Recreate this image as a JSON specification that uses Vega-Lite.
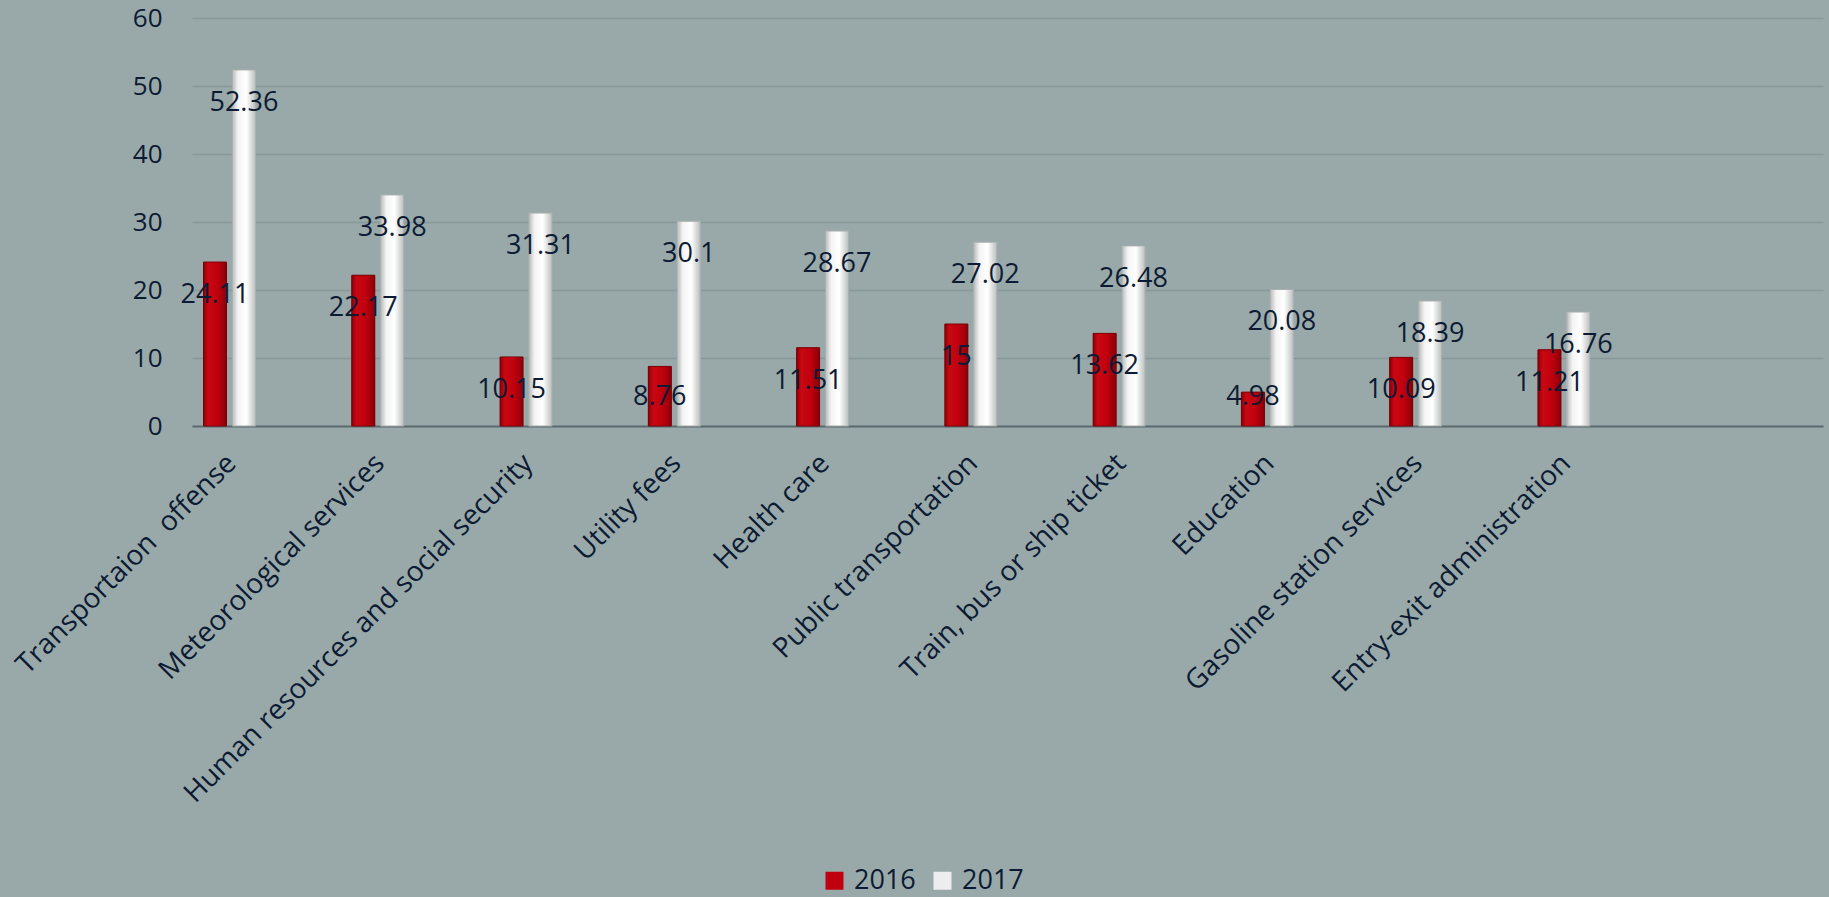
{
  "$schema": "https://vega.github.io/schema/vega-lite/v6.json",
  "autosize": "none",
  "width": 1631,
  "height": 408,
  "padding": {"left": 192, "top": 18, "right": 6, "bottom": 471},
  "background": "#99a9a9",
  "config": {"view": {"stroke": null}, "font": "Open Sans"},
  "data": {
    "values": [
      {"category": "Transportaion  offense", "year": "2016", "value": 24.11},
      {"category": "Transportaion  offense", "year": "2017", "value": 52.36},
      {"category": "Meteorological services", "year": "2016", "value": 22.17},
      {"category": "Meteorological services", "year": "2017", "value": 33.98},
      {"category": "Human resources and social security", "year": "2016", "value": 10.15},
      {"category": "Human resources and social security", "year": "2017", "value": 31.31},
      {"category": "Utility fees", "year": "2016", "value": 8.76},
      {"category": "Utility fees", "year": "2017", "value": 30.1},
      {"category": "Health care", "year": "2016", "value": 11.51},
      {"category": "Health care", "year": "2017", "value": 28.67},
      {"category": "Public transportation", "year": "2016", "value": 15},
      {"category": "Public transportation", "year": "2017", "value": 27.02},
      {"category": "Train, bus or ship ticket", "year": "2016", "value": 13.62},
      {"category": "Train, bus or ship ticket", "year": "2017", "value": 26.48},
      {"category": "Education", "year": "2016", "value": 4.98},
      {"category": "Education", "year": "2017", "value": 20.08},
      {"category": "Gasoline station services", "year": "2016", "value": 10.09},
      {"category": "Gasoline station services", "year": "2017", "value": 18.39},
      {"category": "Entry-exit administration", "year": "2016", "value": 11.21},
      {"category": "Entry-exit administration", "year": "2017", "value": 16.76}
    ]
  },
  "transform": [{"calculate": "max(datum.value, 9.1)", "as": "labelPos"}],
  "encoding": {
    "x": {
      "field": "category",
      "type": "nominal",
      "title": null,
      "scale": {
        "domain": ["Transportaion  offense", "Meteorological services", "Human resources and social security", "Utility fees", "Health care", "Public transportation", "Train, bus or ship ticket", "Education", "Gasoline station services", "Entry-exit administration", " "],
        "paddingInner": 0,
        "paddingOuter": 0
      },
      "axis": {
        "labelAngle": -45,
        "labelFontSize": 28,
        "labelColor": "#0c1b33",
        "labelOffset": -44,
        "labelPadding": 23,
        "labelExpr": "replace(datum.label, '  ', ' \u00a0')",
        "ticks": false,
        "domainColor": "#5b6b70",
        "domainWidth": 2,
        "labelLimit": 700,
        "labelOverlap": false
      }
    },
    "xOffset": {
      "field": "year",
      "type": "nominal",
      "scale": {"domain": ["2016", "2017", "~3", "~4"], "paddingInner": 0.204, "paddingOuter": 0.668, "align": 0.298}
    }
  },
  "layer": [
    {
      "mark": {"type": "bar"},
      "encoding": {
        "y": {
          "field": "value",
          "type": "quantitative",
          "title": null,
          "scale": {"domain": [0, 60], "nice": false},
          "axis": {
            "values": [0, 10, 20, 30, 40, 50, 60],
            "labelFontSize": 26,
            "labelColor": "#0c1b33",
            "labelPadding": 30,
            "ticks": false,
            "domain": false,
            "gridColor": "#86999b",
            "gridWidth": 1.5
          }
        },
        "color": {
          "field": "year",
          "type": "nominal",
          "title": null,
          "scale": {"domain": ["2016", "2017"], "range": ["#c0000e", "#ededed"]},
          "legend": {
            "orient": "none",
            "legendX": 629,
            "legendY": 849,
            "direction": "horizontal",
            "symbolType": "square",
            "symbolSize": 324,
            "symbolStrokeWidth": 0,
            "labelFontSize": 27,
            "labelColor": "#0c1b33",
            "labelOffset": 6,
            "columnPadding": 13,
            "padding": 0
          }
        }
      }
    },
    {
      "transform": [{"filter": "datum.year == '2016'"}],
      "mark": {
        "type": "bar",
        "stroke": "#7a0007",
        "strokeWidth": 1,
        "color": {
          "gradient": "linear", "x1": 0, "x2": 1, "y1": 0, "y2": 0,
          "stops": [
            {"offset": 0, "color": "#8c0008"},
            {"offset": 0.2, "color": "#c80812"},
            {"offset": 0.6, "color": "#c0000e"},
            {"offset": 1, "color": "#8a0008"}
          ]
        }
      },
      "encoding": {"y": {"field": "value", "type": "quantitative"}}
    },
    {
      "transform": [{"filter": "datum.year == '2017'"}],
      "mark": {
        "type": "bar",
        "stroke": "#a9aeae",
        "strokeWidth": 1,
        "color": {
          "gradient": "linear", "x1": 0, "x2": 1, "y1": 0, "y2": 0,
          "stops": [
            {"offset": 0, "color": "#b9bcbc"},
            {"offset": 0.25, "color": "#f4f4f4"},
            {"offset": 0.6, "color": "#ffffff"},
            {"offset": 1, "color": "#bdbfbf"}
          ]
        }
      },
      "encoding": {"y": {"field": "value", "type": "quantitative"}}
    },
    {
      "mark": {"type": "text", "dy": 33, "baseline": "middle", "align": "center", "fontSize": 27, "color": "#0c1b33"},
      "encoding": {
        "y": {"field": "labelPos", "type": "quantitative"},
        "text": {"field": "value", "type": "quantitative"}
      }
    }
  ]
}
